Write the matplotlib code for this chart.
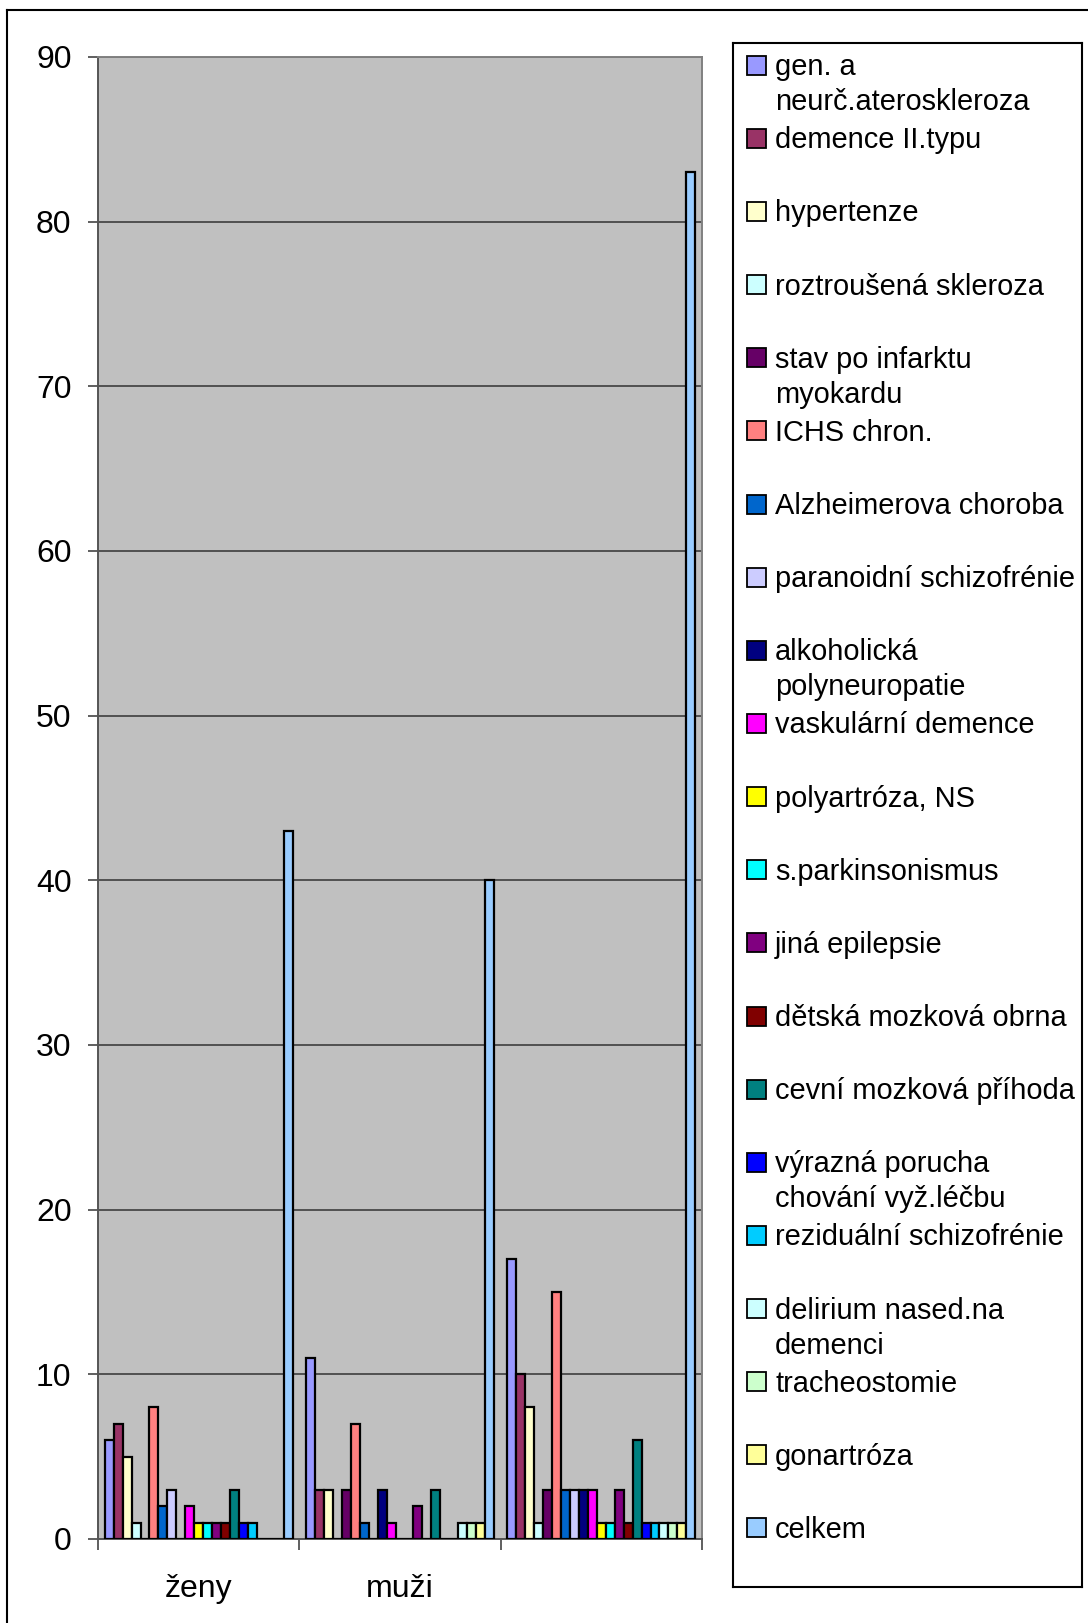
import matplotlib.pyplot as plt
from matplotlib.patches import Rectangle
from matplotlib.lines import Line2D

plt.rcParams['font.family'] = ['Liberation Sans', 'DejaVu Sans']

# kategorie na ose x
skupiny = ["ženy", "muži", ""]

# nazvy serii (legenda)
diagnozy = [
    "gen. a\nneurč.ateroskleroza",
    "demence II.typu",
    "hypertenze",
    "roztroušená skleroza",
    "stav po infarktu\nmyokardu",
    "ICHS chron.",
    "Alzheimerova choroba",
    "paranoidní schizofrénie",
    "alkoholická\npolyneuropatie",
    "vaskulární demence",
    "polyartróza, NS",
    "s.parkinsonismus",
    "jiná epilepsie",
    "dětská mozková obrna",
    "cevní mozková příhoda",
    "výrazná porucha\nchování vyž.léčbu",
    "reziduální schizofrénie",
    "delirium nased.na\ndemenci",
    "tracheostomie",
    "gonartróza",
    "celkem",
]

# hodnoty: zeny, muzi, treti skupina
zeny = [6, 7, 5, 1, 0, 8, 2, 3, 0, 2, 1, 1, 1, 1, 3, 1, 1, 0, 0, 0, 43]
muzi = [11, 3, 3, 0, 3, 7, 1, 0, 3, 1, 0, 0, 2, 0, 3, 0, 0, 1, 1, 1, 40]
celkem = [17, 10, 8, 1, 3, 15, 3, 3, 3, 3, 1, 1, 3, 1, 6, 1, 1, 1, 1, 1, 83]

barvy = [
    "#9999FF", "#993366", "#FFFFCC", "#CCFFFF", "#660066", "#FF8080",
    "#0066CC", "#CCCCFF", "#000080", "#FF00FF", "#FFFF00", "#00FFFF",
    "#800080", "#800000", "#008080", "#0000FF", "#00CCFF", "#CCFFFF",
    "#CCFFCC", "#FFFF99", "#99CCFF",
]

W, H = 1088, 1623
fig = plt.figure(figsize=(W / 100, H / 100), dpi=100)

# vnejsi ramecek (jen levy a horni okraj je videt)
fig.add_artist(Line2D([7 / W, 7 / W], [0, 1 - 10 / H], transform=fig.transFigure,
                      color="black", lw=1.5))
fig.add_artist(Line2D([7 / W, 1], [1 - 10 / H, 1 - 10 / H], transform=fig.transFigure,
                      color="black", lw=1.5))

# graf
left, right, top, bottom = 98, 702, 57, 1539
ax = fig.add_axes([left / W, 1 - bottom / H, (right - left) / W, (bottom - top) / H])
ax.set_facecolor("#C0C0C0")

n = len(diagnozy)
w = 1 / (n + 1.5)
hodnoty = list(zip(zeny, muzi, celkem))
for j in range(n):
    xs = [g + 0.75 * w + j * w for g in range(len(skupiny))]
    ax.bar(xs, hodnoty[j], width=w, align="edge", color=barvy[j],
           edgecolor="black", linewidth=1.6, zorder=3)

ax.set_xlim(0, len(skupiny))
ax.set_ylim(0, 90)
ax.set_yticks(range(0, 91, 10))
ax.yaxis.grid(True, color="#333333", lw=1.1, zorder=1)
ax.tick_params(axis="y", labelsize=23, length=7, width=1.2, pad=12, color="#444444")

ax.set_xticks([g + 0.5 for g in range(len(skupiny))])
ax.set_xticklabels(skupiny, fontsize=23)
ax.tick_params(axis="x", length=0, pad=25)
ax.set_xticks(range(len(skupiny) + 1), minor=True)
ax.tick_params(axis="x", which="minor", length=8, width=1.2, color="#444444")

for s in ["left", "bottom"]:
    ax.spines[s].set_color("#555555")
    ax.spines[s].set_linewidth(1.4)
for s in ["top", "right"]:
    ax.spines[s].set_color("#808080")
    ax.spines[s].set_linewidth(1.4)

# legenda kreslena rucne (stejne rozestupy jako v originale)
lx0, lx1, ly0, ly1 = 733, 1082, 43, 1587
lax = fig.add_axes([lx0 / W, 1 - ly1 / H, (lx1 - lx0) / W, (ly1 - ly0) / H])
lax.set_xlim(lx0, lx1)
lax.set_ylim(ly1, ly0)
lax.set_xticks([])
lax.set_yticks([])
for s in lax.spines.values():
    s.set_color("black")
    s.set_linewidth(1.5)

prvni, krok, radek = 65.2, 73.14, 35
for j, nazev in enumerate(diagnozy):
    yc = prvni + j * krok
    lax.add_patch(Rectangle((747, yc - 9.5), 19, 19, facecolor=barvy[j],
                            edgecolor="black", lw=1.3))
    for k, txt in enumerate(nazev.split("\n")):
        lax.text(775, yc + 10 + k * radek, txt, fontsize=20.9, va="baseline", ha="left")

fig.savefig("out.png", dpi=100)
